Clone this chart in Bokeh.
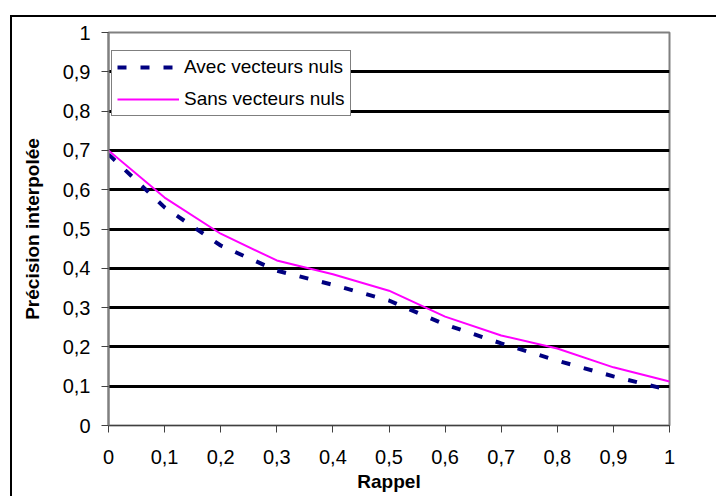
from bokeh.plotting import figure
from bokeh.models import FixedTicker, Legend, LegendItem
from bokeh.embed import file_html
from bokeh.resources import INLINE

rappel = [0, 0.1, 0.2, 0.3, 0.4, 0.5, 0.6, 0.7, 0.8, 0.9, 1.0]
avec = [0.69, 0.555, 0.458, 0.394, 0.358, 0.318, 0.257, 0.209, 0.165, 0.125, 0.09]
sans = [0.70, 0.58, 0.488, 0.42, 0.385, 0.343, 0.277, 0.229, 0.196, 0.148, 0.112]
x_ticks = [0, 0.1, 0.2, 0.3, 0.4, 0.5, 0.6, 0.7, 0.8, 0.9, 1.0]
x_labels = ["0", "0,1", "0,2", "0,3", "0,4", "0,5", "0,6", "0,7", "0,8", "0,9", "1"]
y_ticks = [0, 0.1, 0.2, 0.3, 0.4, 0.5, 0.6, 0.7, 0.8, 0.9, 1.0]
y_labels = ["0", "0,1", "0,2", "0,3", "0,4", "0,5", "0,6", "0,7", "0,8", "0,9", "1"]
grid_vals = [0.1, 0.2, 0.3, 0.4, 0.5, 0.6, 0.7, 0.8, 0.9]

FONT = "Liberation Sans"

p = figure(width=706, height=481, output_backend="svg", toolbar_location=None,
           x_range=(0, 1), y_range=(0, 1),
           min_border_left=96, min_border_right=49, min_border_top=15, min_border_bottom=73,
           margin=(15, 0, 0, 10))
p.styles = {"border-left": "2px solid black", "border-top": "2px solid black"}
p.background_fill_color = "white"
p.border_fill_color = "white"
p.outline_line_color = "#808080"
p.outline_line_width = 2

p.xgrid.visible = False
p.ygrid.ticker = FixedTicker(ticks=grid_vals)
p.ygrid.grid_line_color = "black"
p.ygrid.grid_line_width = 3

p.xaxis.ticker = FixedTicker(ticks=x_ticks)
p.xaxis.major_label_overrides = {t: l for t, l in zip(x_ticks, x_labels)}
p.yaxis.ticker = FixedTicker(ticks=y_ticks)
p.yaxis.major_label_overrides = {t: l for t, l in zip(y_ticks, y_labels)}

for ax in (p.xaxis, p.yaxis):
    ax.minor_tick_line_color = None
    ax.major_tick_in = 0
    ax.major_tick_out = 7
    ax.major_tick_line_color = "#404040"
    ax.axis_line_color = "#404040"
    ax.major_label_text_font = FONT
    ax.major_label_text_font_size = "20px"
    ax.major_label_text_color = "black"
    ax.axis_label_text_font = FONT
    ax.axis_label_text_font_size = "19px"
    ax.axis_label_text_font_style = "bold"
    ax.axis_label_text_color = "black"

p.yaxis.axis_line_color = "#808080"
p.yaxis.axis_line_width = 2
p.xaxis.major_label_standoff = 17
p.yaxis.major_label_standoff = 11
p.xaxis.axis_label = "Rappel"
p.yaxis.axis_label = "Précision interpolée"
p.xaxis.axis_label_standoff = 4
p.yaxis.axis_label_standoff = 17

r1 = p.line(rappel, avec, line_color="#000080", line_width=4, line_dash="9 14")
r2 = p.line(rappel, sans, line_color="#FF00FF", line_width=2)

legend = Legend(items=[LegendItem(label="Avec vecteurs nuls", renderers=[r1]),
                       LegendItem(label="Sans vecteurs nuls", renderers=[r2])],
                location=(3, 309))
legend.label_text_font = FONT
legend.label_text_font_size = "19px"
legend.label_text_color = "black"
legend.glyph_width = 62
legend.glyph_height = 22
legend.label_height = 22
legend.label_standoff = 5
legend.spacing = 10
legend.padding = 5
legend.margin = 0
legend.border_line_color = "black"
legend.border_line_width = 1
legend.background_fill_color = "white"
legend.background_fill_alpha = 1
p.add_layout(legend, "center")

open("out.html", "w").write(file_html(p, INLINE))
